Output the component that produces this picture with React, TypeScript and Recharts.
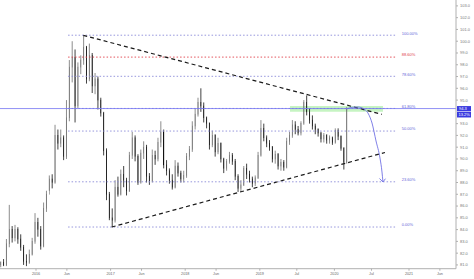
import React from 'react';
import { ComposedChart, Bar, XAxis, YAxis, ReferenceLine, ReferenceArea, Scatter } from 'recharts';

// Bi-weekly candles, first one mid-2015
const START = 2015.527;
const STEP = 14 / 365.25;

const opens = [
  81.0, 81.2, 81.0, 82.8, 84.0, 83.3, 84.0, 83.2, 82.5, 81.3,
  81.2, 81.9, 83.0, 84.6, 84.0, 82.6, 85.8, 87.0, 88.3, 88.0,
  92.0, 91.3, 91.8, 90.2, 93.5, 97.8, 98.6, 94.5, 97.8, 98.4,
  99.5, 96.8, 98.8, 96.2, 96.8, 95.0, 93.9, 90.7, 87.0, 85.0,
  84.8, 87.6, 87.0, 88.7, 88.2, 87.3, 90.3, 91.8, 90.2, 88.0,
  90.5, 91.0, 88.5, 88.1, 90.3, 90.0, 91.4, 92.3, 89.5, 89.0,
  88.2, 87.6, 89.4, 88.8, 88.3, 88.6, 90.2, 90.8, 92.8, 93.8,
  94.8, 94.5, 93.5, 93.0, 91.2, 92.0, 90.6, 91.3, 90.0, 89.2,
  89.8, 90.3, 89.8, 88.5, 87.5, 87.8, 89.2, 88.7, 88.3, 87.9,
  88.4, 90.3, 92.6, 91.8, 91.3, 91.0, 90.0, 90.4, 89.4, 89.7,
  89.3, 91.5, 92.0, 92.9, 92.5, 92.2, 93.0, 94.8, 94.0, 93.3,
  92.8, 92.5, 92.2, 91.7, 92.0, 91.6, 91.8, 91.4, 92.4, 91.9,
  90.9, 89.7,
];
const highs = [
  81.3, 81.5, 83.2, 86.1, 84.3, 84.4, 84.2, 83.6, 82.7, 81.9,
  82.3, 83.3, 85.4, 85.0, 84.3, 86.3, 87.3, 88.6, 88.7, 92.9,
  92.5, 92.5, 92.0, 95.0, 98.4, 100.0, 99.3, 98.2, 98.8, 100.5,
  99.6, 99.8, 99.0, 97.3, 97.0, 95.2, 94.0, 90.9, 87.2, 85.8,
  88.2, 88.5, 89.1, 89.4, 88.4, 90.6, 92.3, 92.0, 90.4, 90.8,
  91.5, 91.2, 88.8, 90.8, 90.7, 91.8, 93.2, 92.5, 89.9, 89.2,
  88.7, 89.9, 89.7, 89.0, 89.0, 90.5, 91.1, 93.2, 94.3, 95.2,
  96.0, 94.8, 93.6, 93.1, 92.4, 92.1, 91.8, 91.4, 90.1, 90.0,
  90.6, 90.5, 90.0, 88.7, 88.2, 89.4, 89.6, 89.0, 88.5, 88.6,
  90.6, 93.3, 93.0, 92.0, 91.6, 91.1, 90.7, 90.5, 90.0, 89.9,
  91.8, 92.3, 93.3, 93.2, 92.8, 93.2, 95.0, 95.4, 94.3, 93.7,
  93.0, 92.6, 92.3, 92.2, 92.1, 92.0, 91.9, 92.6, 92.6, 92.0,
  91.0, 94.4,
];
const lows = [
  80.8, 80.9, 80.9, 82.5, 82.9, 83.0, 82.8, 82.2, 81.0, 80.9,
  81.1, 81.8, 82.8, 83.4, 82.3, 82.5, 85.5, 87.3, 87.5, 87.9,
  90.8, 91.0, 89.9, 90.0, 93.2, 96.5, 93.1, 94.3, 97.2, 98.0,
  96.4, 96.6, 95.6, 95.5, 94.2, 93.6, 90.3, 86.5, 84.8, 84.2,
  84.6, 86.8, 86.9, 87.6, 86.9, 87.2, 90.0, 89.8, 87.8, 87.9,
  90.0, 88.0, 87.8, 88.0, 89.5, 89.8, 91.0, 89.2, 88.6, 87.9,
  87.4, 87.5, 88.5, 88.0, 88.0, 88.4, 89.9, 90.6, 92.5, 93.6,
  94.0, 93.1, 92.6, 90.8, 91.0, 90.2, 90.4, 89.7, 88.8, 89.0,
  89.6, 89.5, 88.2, 87.2, 87.2, 87.7, 88.3, 88.0, 87.6, 87.7,
  88.3, 90.2, 91.5, 91.0, 90.7, 89.7, 89.6, 89.1, 89.0, 89.0,
  89.2, 91.2, 91.8, 92.1, 92.0, 92.0, 92.9, 93.7, 93.0, 92.5,
  92.1, 91.9, 91.4, 91.4, 91.3, 91.3, 91.2, 91.3, 91.6, 90.7,
  89.1, 89.6,
];
const closes = [
  81.2, 81.0, 82.8, 84.0, 83.3, 84.0, 83.2, 82.5, 81.3, 81.2,
  81.9, 83.0, 84.6, 84.0, 82.6, 85.8, 87.0, 88.3, 88.0, 92.0,
  91.3, 91.8, 90.2, 93.5, 97.8, 98.6, 94.5, 97.8, 98.4, 99.5,
  96.8, 98.8, 96.2, 96.8, 95.0, 93.9, 90.7, 87.0, 85.0, 84.8,
  87.6, 87.0, 88.7, 88.2, 87.3, 90.3, 91.8, 90.2, 88.0, 90.5,
  91.0, 88.5, 88.1, 90.3, 90.0, 91.4, 92.3, 89.5, 89.0, 88.2,
  87.6, 89.4, 88.8, 88.3, 88.6, 90.2, 90.8, 92.8, 93.8, 94.8,
  94.5, 93.5, 93.0, 91.2, 92.0, 90.6, 91.3, 90.0, 89.2, 89.8,
  90.3, 89.8, 88.5, 87.5, 87.8, 89.2, 88.7, 88.3, 87.9, 88.4,
  90.3, 92.6, 91.8, 91.3, 91.0, 90.0, 90.4, 89.4, 89.7, 89.3,
  91.5, 92.0, 92.9, 92.5, 92.2, 93.0, 94.8, 94.0, 93.3, 92.8,
  92.5, 92.2, 91.7, 92.0, 91.6, 91.8, 91.4, 92.4, 91.9, 90.9,
  89.7, 94.2,
];

const xTicks = [2016, 2016.414, 2017, 2017.414, 2018, 2018.414, 2019, 2019.496, 2020, 2020.497, 2021, 2021.414];
const xTickLabels = ['2016', 'Jun', '2017', 'Jun', '2018', 'Jun', '2019', 'Jul', '2020', 'Jul', '2021', 'Jun'];
const yTicks = [81, 82, 83, 84, 85, 86, 87, 88, 89, 90, 91, 92, 93, 95, 96, 97, 98, 99, 100, 101, 102, 103];

const fibLevels = [100.51, 98.65, 97.02, 94.29, 92.37, 88.06, 84.22];
const fibNames = ['100.00%', '88.60%', '78.60%', '61.80%', '50.00%', '23.60%', '0.00%'];
const fibIsRed = [false, true, false, false, false, false, false];
const FIB_T1 = 2016.43;
const FIB_T2 = 2020.839;
const FIB_LABEL_T = 2020.902;

const PRICE = 94.28;
const priceLabel = '94.3';
const changeLabel = '13.2%';

const upperTrend = [{ x: 2016.634, y: 100.5 }, { x: 2020.634, y: 93.79 }];
const lowerTrend = [{ x: 2017.015, y: 84.22 }, { x: 2020.678, y: 90.55 }];

const zone = { t1: 2019.405, t2: 2020.651, v1: 94.01, v2: 94.5 };

const curveT = [2020.165, 2020.236, 2020.316, 2020.397, 2020.457, 2020.504, 2020.558, 2020.611, 2020.638, 2020.651];
const curveV = [94.243, 94.387, 94.413, 94.243, 93.818, 93.054, 91.525, 90.082, 88.893, 88.044];

const candles = closes.map((c, i) => ({
  t: START + i * STEP,
  o: opens[i],
  h: highs[i],
  l: lows[i],
  c,
  range: [lows[i], highs[i]],
}));
const curve = curveT.map((t, i) => ({ t, v: curveV[i] }));
const arrowTip = [{ t: curveT[curveT.length - 1], v: curveV[curveV.length - 1] }];
const fibLabelData = fibLevels.map((v, i) => ({ t: FIB_LABEL_T, v, name: fibNames[i], red: fibIsRed[i] }));

const FONT = 'Liberation Sans, Arial, sans-serif';
const BLUE = '#6464d8';
const RED = '#e0404a';
const ARROW = '#7272e4';

const Candle = (props: any) => {
  const { x, y, width, height, payload } = props;
  if (x == null || y == null) return <g />;
  const top = Math.min(y, y + height);
  const bot = Math.max(y, y + height);
  const span = payload.h - payload.l || 1;
  const pix = (v: number) => top + ((payload.h - v) / span) * (bot - top);
  const yo = pix(payload.o);
  const yc = pix(payload.c);
  const up = payload.c >= payload.o;
  const cx = x + width / 2;
  const bt = Math.min(yo, yc);
  const bh = Math.max(Math.abs(yo - yc), 0.8);
  const col = up ? '#707070' : '#111111';
  return (
    <g>
      <line x1={cx} x2={cx} y1={top} y2={bot} stroke={col} strokeWidth={0.8} />
      <rect x={x} y={bt} width={width} height={bh} fill={up ? '#d6d6d6' : '#111111'} stroke={col} strokeWidth={0.6} />
    </g>
  );
};

const PriceBoxes = (props: any) => {
  const vb = props.viewBox || {};
  const x0 = (vb.x || 0) + (vb.width || 0) + 1;
  const y0 = vb.y || 0;
  return (
    <g>
      <rect x={x0} y={y0 - 2.5} width={14} height={5.2} fill="#3a3ae0" />
      <text x={x0 + 2} y={y0 + 1.4} fontSize={4} fill="#ffffff" fontFamily={FONT}>{priceLabel}</text>
      <rect x={x0} y={y0 + 3.3} width={14} height={5.6} fill="#3a3ae0" />
      <text x={x0 + 1.5} y={y0 + 7.5} fontSize={4} fill="#ffffff" fontFamily={FONT}>{changeLabel}</text>
    </g>
  );
};

export default function App() {
  return (
    <div style={{ position: 'absolute', left: 0, top: 0, width: 474, height: 279, background: '#ffffff' }}>
      <ComposedChart width={474} height={279} data={candles} margin={{ top: 0, right: 0, bottom: 0, left: 0 }}>
        <XAxis
          dataKey="t"
          type="number"
          domain={[2015.5174, 2021.63]}
          allowDataOverflow
          ticks={xTicks}
          tickFormatter={(v: number) => xTickLabels[xTicks.indexOf(v)] ?? ''}
          height={10.3}
          tickSize={2}
          tickMargin={1.5}
          interval={0}
          stroke="#b0b0b0"
          tick={{ fontSize: 3.7, fill: '#666', fontFamily: FONT }}
        />
        <YAxis
          orientation="right"
          type="number"
          domain={[80.68, 103.5]}
          allowDataOverflow
          ticks={yTicks}
          tickFormatter={(v: number) => v.toFixed(1)}
          width={18}
          tickSize={2}
          tickMargin={2}
          interval={0}
          stroke="#b0b0b0"
          tick={{ fontSize: 4, fill: '#777', fontFamily: FONT }}
        />
        <ReferenceArea x1={zone.t1} x2={zone.t2} y1={zone.v1} y2={zone.v2} fill="#a8eea2" fillOpacity={0.65} stroke="none" />
        {fibLevels.map((v, i) => (
          <ReferenceLine
            key={'fib' + i}
            segment={[{ x: FIB_T1, y: v }, { x: FIB_T2, y: v }]}
            stroke={fibIsRed[i] ? RED : '#8a8ad8'}
            strokeDasharray="1.5 2"
            strokeWidth={0.9}
          />
        ))}
        <ReferenceLine y={PRICE} stroke="#7474f2" strokeWidth={0.8} label={<PriceBoxes />} />
        <Bar dataKey="range" barSize={2.3} shape={<Candle />} isAnimationActive={false} />
        <ReferenceLine segment={upperTrend} stroke="#1a1a1a" strokeDasharray="4 3" strokeWidth={1.2} />
        <ReferenceLine segment={lowerTrend} stroke="#1a1a1a" strokeDasharray="4 3" strokeWidth={1.2} />
        <Scatter
          data={curve}
          dataKey="v"
          line={{ stroke: ARROW, strokeWidth: 0.9 }}
          lineJointType="monotoneX"
          shape={() => <g />}
          isAnimationActive={false}
        />
        <Scatter
          data={arrowTip}
          dataKey="v"
          isAnimationActive={false}
          shape={(p: any) => (
            <path d={`M${p.cx - 3.5},${p.cy - 3.5} L${p.cx},${p.cy} L${p.cx + 2.5},${p.cy - 3.3}`} stroke={ARROW} strokeWidth={0.9} fill="none" />
          )}
        />
        <Scatter
          data={fibLabelData}
          dataKey="v"
          isAnimationActive={false}
          shape={(p: any) => (
            <text x={p.cx} y={p.cy - 0.7} fontSize={4} fill={p.payload.red ? RED : BLUE} fontFamily={FONT}>
              {p.payload.name}
            </text>
          )}
        />
      </ComposedChart>
    </div>
  );
}
